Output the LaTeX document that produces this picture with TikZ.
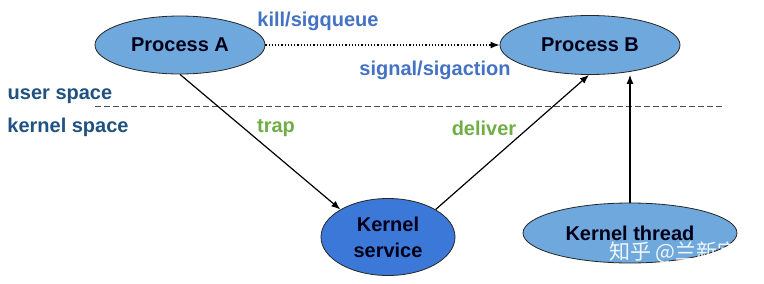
\documentclass[tikz,border=0pt]{standalone}
\usepackage{fontspec}
\setmainfont{Liberation Sans}
\newfontfamily\cjk{Noto Sans CJK SC}
\usetikzlibrary{shapes.geometric,arrows.meta}
\definecolor{procfill}{RGB}{111,168,220}
\definecolor{ksfill}{RGB}{60,120,216}
\definecolor{lblblue}{RGB}{68,114,196}
\definecolor{spacecol}{RGB}{31,82,128}
\definecolor{lblgreen}{RGB}{112,173,71}
\tikzset{
  proc/.style={ellipse, draw=black!85, line width=0.8pt, fill=procfill, inner sep=0pt, font=\bfseries\fontsize{20}{24}\selectfont, text=black!90!blue},
  lbl/.style={font=\bfseries\fontsize{20}{24}\selectfont, inner sep=0pt},
  arr/.style={-{Latex[length=9pt,width=7pt]}, line width=1.2pt},
}
\begin{document}
\begin{tikzpicture}[x=1pt,y=-1pt]
\useasboundingbox[fill=white] (0,0) rectangle (764,284);
\node[proc, minimum width=170pt, minimum height=58pt] (A) at (180,45) {Process A};
\node[proc, minimum width=180pt, minimum height=59pt] (B) at (590,45) {Process B};
\node[proc, fill=ksfill, minimum width=134pt, minimum height=77pt, align=center, font=\bfseries\fontsize{20}{26}\selectfont] (KS) at (388,237) {Kernel\\service};
\node[proc, minimum width=214pt, minimum height=60pt] (KT) at (630,233) {Kernel thread};
\node[lbl, text=lblblue] (kill) at (318,21) {kill/sigqueue};
\node[lbl, text=lblblue] (sig) at (435,70) {signal/sigaction};
\node[lbl, text=spacecol] (us) at (60,96) {user space};
\node[lbl, text=spacecol] (ks) at (68,127) {kernel space};
\node[lbl, text=lblgreen] (trap) at (276,128) {trap};
\node[lbl, text=lblgreen] (deliv) at (484,128) {deliver};
\coordinate (dl) at (95,106);
\coordinate (dr) at (724,106);
\draw[black!70, line width=0.8pt, dash pattern=on 6pt off 3pt] (dl) -- (dr);
\draw[arr, dotted, line width=1.4pt] (A.east) -- (B.west);
\draw[arr] (A.south) -- (KS.150);
\draw[arr] (KS.30) -- (B.268);
\draw[arr] (KT.north) -- (KT.north |- B.south);
\node[text=white, font=\cjk\fontsize{21}{24}\selectfont, inner sep=0pt, opacity=0.9] (wm) at (674,252) {知乎 @兰新宇};
\end{tikzpicture}
\end{document}
